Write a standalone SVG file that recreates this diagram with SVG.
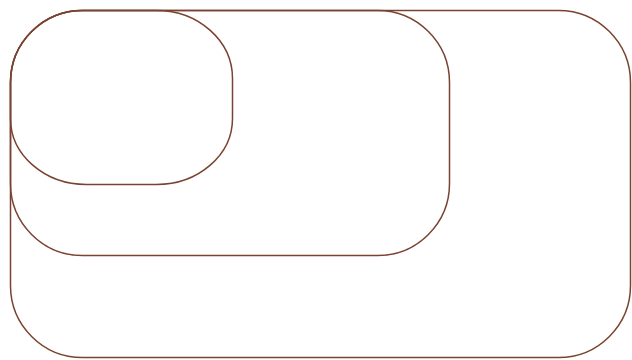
<svg xmlns="http://www.w3.org/2000/svg" width="632" height="360" viewBox="0 0 632 360">
<style>
.box{fill:none;stroke:#7a4230;stroke-width:1.5}
</style>
<rect width="632" height="360" fill="#ffffff"/>
<g id="outer"><rect class="box" x="10.5" y="10.5" width="620" height="347" rx="72" ry="72"/></g>
<g id="middle"><rect class="box" x="10.5" y="10.5" width="439" height="245" rx="72" ry="72"/></g>
<g id="inner"><path class="box" d="M82.5,10.5 H156.5 A76,68 0 0 1 232.5,78.5 V118.5 A76,66 0 0 1 156.5,184.5 H86.5 A76,66 0 0 1 10.5,118.5 V82.5 A72,72 0 0 1 82.5,10.5 Z"/></g>
<g id="connectors"></g>
</svg>
